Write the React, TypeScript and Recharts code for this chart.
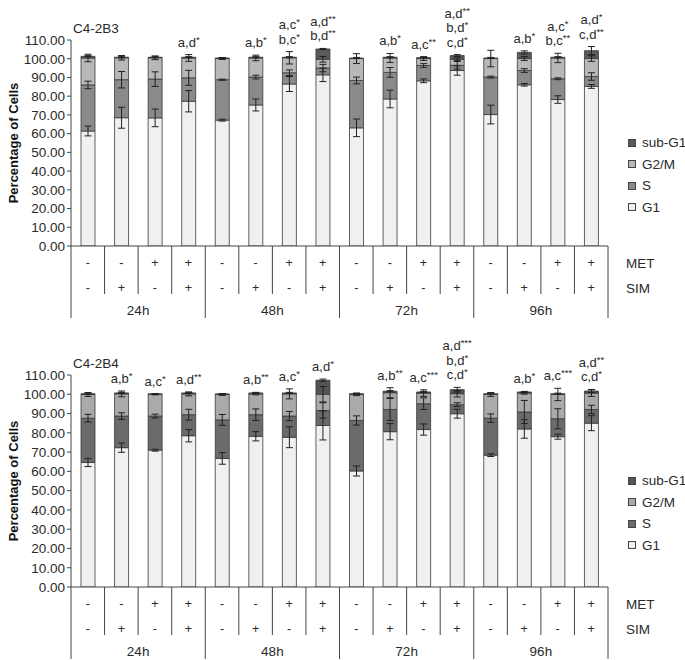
import { BarChart, Bar, XAxis, YAxis, ErrorBar, LabelList, Label } from "recharts";

const FONT = "'Liberation Sans', Arial, sans-serif";

const hours = ["24h", "48h", "72h", "96h"];
const met = ["-", "-", "+", "+", "-", "-", "+", "+", "-", "-", "+", "+", "-", "-", "+", "+"];
const sim = ["-", "+", "-", "+", "-", "+", "-", "+", "-", "+", "-", "+", "-", "+", "-", "+"];
const phases = ["sub-G1", "G2/M", "S", "G1"];
const yTicks = [0, 10, 20, 30, 40, 50, 60, 70, 80, 90, 100, 110];

// C4-2B3
const b3G1 = [61.4, 68.5, 68.4, 77.3, 67.2, 75.3, 86.5, 91.4, 63.1, 78.5, 88.2, 93.7, 70.2, 86.1, 78.2, 85.2];
const b3S = [24.6, 20.3, 20.7, 12.5, 21.6, 14.9, 6.0, 3.6, 25.3, 14.2, 8.2, 2.8, 20.0, 7.6, 11.1, 5.3];
const b3G2M = [14.4, 11.7, 11.4, 10.6, 11.3, 10.2, 8.0, 4.7, 11.7, 7.7, 3.7, 3.2, 9.9, 6.4, 11.1, 9.6];
const b3Sub = [0.9, 0.3, 0.3, 0.4, 0.3, 0.4, 0.3, 5.5, 0.3, 0.4, 0.5, 2.0, 0.3, 3.3, 0.4, 4.2];
const b3G1Err = [2.6, 5.6, 4.7, 5.7, 0.5, 3.2, 4.0, 3.6, 4.7, 4.7, 1.0, 2.5, 5.0, 0.7, 2.0, 1.0];
const b3SErr = [2.0, 4.4, 3.9, 4.0, 0.3, 1.0, 1.5, 2.0, 1.8, 2.6, 1.0, 2.0, 0.5, 1.0, 0.5, 2.0];
const b3G2MErr = [2.0, 1.2, 1.0, 1.8, 0.5, 1.5, 3.3, 1.5, 2.6, 2.4, 1.0, 0.7, 4.4, 1.0, 2.5, 1.5];
const b3SubErr = [0.3, 0.3, 0.3, 0.3, 0.2, 0.3, 0.3, 0.3, 0.3, 0.3, 0.3, 0.5, 0.3, 0.8, 0.3, 2.2];
const b3Notes = [
  [], [], [], ["a,d*"],
  [], ["a,b*"], ["a,c*", "b,c*"], ["a,d**", "b,d**"],
  [], ["a,b*"], ["a,c**"], ["a,d**", "b,d*", "c,d*"],
  [], ["a,b*"], ["a,c*", "b,c**"], ["a,d*", "c,d**"],
];

// C4-2B4
const b4G1 = [64.6, 72.3, 71.0, 78.5, 66.7, 78.2, 77.7, 83.8, 60.2, 80.6, 81.7, 89.9, 68.4, 82.0, 78.0, 85.0];
const b4S = [23.0, 16.4, 17.7, 10.9, 20.0, 11.2, 11.0, 7.8, 26.2, 11.5, 13.4, 4.7, 19.2, 8.8, 9.3, 7.1];
const b4G2M = [12.3, 11.5, 11.3, 10.8, 13.2, 10.8, 11.5, 8.4, 13.5, 8.7, 5.5, 5.7, 12.3, 9.8, 12.6, 8.5];
const b4Sub = [0.4, 0.5, 0.2, 0.5, 0.3, 0.5, 0.5, 7.3, 0.4, 0.8, 0.6, 2.1, 0.4, 0.6, 0.4, 1.1];
const b4G1Err = [2.1, 2.4, 0.5, 3.2, 3.0, 2.4, 5.4, 7.5, 2.6, 4.2, 2.9, 2.3, 0.7, 4.8, 1.3, 3.9];
const b4SErr = [2.0, 1.7, 1.0, 2.8, 2.8, 3.0, 2.4, 4.0, 2.4, 5.7, 3.0, 1.0, 2.2, 6.0, 5.2, 2.2];
const b4G2MErr = [1.0, 1.5, 0.3, 1.0, 0.5, 0.5, 2.6, 4.0, 0.6, 2.6, 1.7, 1.7, 1.0, 0.5, 3.2, 1.7];
const b4SubErr = [0.3, 0.3, 0.2, 0.3, 0.2, 0.3, 0.3, 0.6, 0.3, 0.3, 0.3, 1.2, 0.3, 0.3, 0.3, 0.8];
const b4Notes = [
  [], ["a,b*"], ["a,c*"], ["a,d**"],
  [], ["a,b**"], ["a,c*"], ["a,d*"],
  [], ["a,b**"], ["a,c***"], ["a,d***", "b,d*", "c,d*"],
  [], ["a,b*"], ["a,c***"], ["a,d**", "c,d*"],
];

const WIDTH = 685;
const MARGIN_LEFT = 7;
const Y_AXIS_W = 64;
const MARGIN_RIGHT = 77;
const BAND = (WIDTH - MARGIN_LEFT - Y_AXIS_W - MARGIN_RIGHT) / 16;
const TEXT = "#2a2a2a";

function CategoryTick({ x, y, payload }: any) {
  const i = Number(payload.value);
  const left = x - BAND / 2;
  const txt = { fontFamily: FONT, fontSize: 12.5, fill: TEXT, textAnchor: "middle" as const };
  return (
    <g>
      <line x1={left} y1={y} x2={left} y2={y + (i % 4 === 0 ? 72 : 48)} stroke="#444" strokeWidth={1} />
      {i === 15 && (
        <>
          <line x1={x + BAND / 2} y1={y} x2={x + BAND / 2} y2={y + 72} stroke="#444" strokeWidth={1} />
          <text x={x + BAND / 2 + 18} y={y + 22} {...txt} textAnchor="start" fontSize={13.5}>MET</text>
          <text x={x + BAND / 2 + 18} y={y + 47} {...txt} textAnchor="start" fontSize={13.5}>SIM</text>
        </>
      )}
      <text x={x} y={y + 21} {...txt}>{met[i]}</text>
      <text x={x} y={y + 46} {...txt}>{sim[i]}</text>
      {i % 4 === 1 && (
        <text x={x + BAND / 2} y={y + 69} {...txt} fontSize={13.5}>{hours[(i - 1) / 4]}</text>
      )}
    </g>
  );
}

function Note({ text, x, y }: { text: string; x: number; y: number }) {
  const m = text.match(/^([^*]*)(\**)$/);
  const base = m ? m[1] : text;
  const stars = m ? m[2] : "";
  return (
    <text x={x} y={y} textAnchor="middle" fontFamily={FONT} fontSize={13} fill={TEXT}>
      <tspan>{base}</tspan>
      {stars && <tspan fontSize={9.5} dy={-4}>{stars}</tspan>}
    </text>
  );
}

interface PanelProps {
  title: string;
  g1: number[];
  s: number[];
  g2m: number[];
  sub: number[];
  g1Err: number[];
  sErr: number[];
  g2mErr: number[];
  subErr: number[];
  notes: string[][];
  colors: string[];
  height: number;
  marginTop: number;
  marginBottom: number;
  axisHeight: number;
  titleY: number;
  legendTop: number;
}

function Panel(p: PanelProps) {
  const data = p.g1.map((v, i) => ({
    id: i,
    g1: v,
    s: p.s[i],
    g2m: p.g2m[i],
    sub: p.sub[i],
    g1Err: p.g1Err[i],
    sErr: p.sErr[i],
    g2mErr: p.g2mErr[i],
    subErr: p.subErr[i],
  }));
  const plotH = p.height - p.marginTop - p.axisHeight - p.marginBottom;
  const pxPerUnit = plotH / 110;
  const [cSub, cG2M, cS, cG1] = p.colors;

  const renderNotes = (lp: any) => {
    const vb = lp.viewBox ?? lp;
    const i = lp.index;
    const lines = p.notes[i] || [];
    if (!lines.length) return null;
    const total = p.g1[i] + p.s[i] + p.g2m[i] + p.sub[i];
    const g2mTop = total - p.sub[i];
    const errTop = Math.max(total + p.subErr[i], g2mTop + p.g2mErr[i]);
    const cx = vb.x + vb.width / 2;
    const baseY = vb.y - (errTop - total) * pxPerUnit - 8;
    return (
      <g>
        {lines.map((t, k) => (
          <Note key={k} text={t} x={cx} y={baseY - (lines.length - 1 - k) * 14.5} />
        ))}
      </g>
    );
  };

  const eb = { width: 3.5, stroke: "#222", strokeWidth: 1 };
  const barStroke = { stroke: "#3a3a3a", strokeWidth: 0.8 };

  return (
    <div style={{ position: "relative", width: WIDTH, height: p.height }}>
      <div
        style={{
          position: "absolute",
          left: 73,
          top: p.titleY,
          fontFamily: FONT,
          fontSize: 13.5,
          color: TEXT,
        }}
      >
        {p.title}
      </div>
      <BarChart
        width={WIDTH}
        height={p.height}
        data={data}
        margin={{ top: p.marginTop, right: MARGIN_RIGHT, left: MARGIN_LEFT, bottom: p.marginBottom }}
        barSize={14}
      >
        <XAxis
          dataKey="id"
          height={p.axisHeight}
          tickLine={false}
          tickSize={0}
          tickMargin={0}
          interval={0}
          axisLine={{ stroke: "#444" }}
          tick={<CategoryTick />}
        />
        <YAxis
          domain={[0, 110]}
          ticks={yTicks}
          interval={0}
          width={Y_AXIS_W}
          tickFormatter={(v: number) => v.toFixed(2)}
          tick={{ fontFamily: FONT, fontSize: 13.5, fill: TEXT }}
          tickSize={4}
          tickMargin={2}
          tickLine={{ stroke: "#444" }}
          axisLine={{ stroke: "#444" }}
          allowDataOverflow
        >
          <Label
            content={() => {
              const mid = p.marginTop + plotH / 2;
              return (
                <text
                  x={13}
                  y={mid}
                  transform={`rotate(-90 13 ${mid})`}
                  textAnchor="middle"
                  dominantBaseline="central"
                  fontFamily={FONT}
                  fontSize={13}
                  fontWeight="bold"
                  fill="#111"
                >
                  Percentage of Cells
                </text>
              );
            }}
          />
        </YAxis>
        <Bar dataKey="g1" stackId="a" fill={cG1} {...barStroke} isAnimationActive={false}>
          <ErrorBar dataKey="g1Err" {...eb} />
        </Bar>
        <Bar dataKey="s" stackId="a" fill={cS} {...barStroke} isAnimationActive={false}>
          <ErrorBar dataKey="sErr" {...eb} />
        </Bar>
        <Bar dataKey="g2m" stackId="a" fill={cG2M} {...barStroke} isAnimationActive={false}>
          <ErrorBar dataKey="g2mErr" {...eb} />
        </Bar>
        <Bar dataKey="sub" stackId="a" fill={cSub} {...barStroke} isAnimationActive={false}>
          <ErrorBar dataKey="subErr" {...eb} />
          <LabelList dataKey="sub" content={renderNotes} />
        </Bar>
      </BarChart>
      <div
        style={{
          position: "absolute",
          left: 628,
          top: p.legendTop,
          fontFamily: FONT,
          fontSize: 13.5,
          color: TEXT,
          whiteSpace: "nowrap",
        }}
      >
        {phases.map((name, k) => (
          <div key={name} style={{ display: "flex", alignItems: "center", height: 21.5 }}>
            <span
              style={{
                display: "inline-block",
                width: 6,
                height: 6,
                background: p.colors[k],
                border: "1px solid #444",
                marginRight: 6,
                flexShrink: 0,
              }}
            />
            {name}
          </div>
        ))}
      </div>
    </div>
  );
}

export default function App() {
  return (
    <div style={{ position: "absolute", left: 0, top: 0, width: WIDTH, height: 660, background: "#fff" }}>
      <Panel
        title="C4-2B3"
        g1={b3G1}
        s={b3S}
        g2m={b3G2M}
        sub={b3Sub}
        g1Err={b3G1Err}
        sErr={b3SErr}
        g2mErr={b3G2MErr}
        subErr={b3SubErr}
        notes={b3Notes}
        colors={["#5a5a5a", "#b8b8b8", "#8a8a8a", "#f0f0f0"]}
        height={330}
        marginTop={40}
        marginBottom={9}
        axisHeight={75}
        titleY={21}
        legendTop={132}
      />
      <Panel
        title="C4-2B4"
        g1={b4G1}
        s={b4S}
        g2m={b4G2M}
        sub={b4Sub}
        g1Err={b4G1Err}
        sErr={b4SErr}
        g2mErr={b4G2MErr}
        subErr={b4SubErr}
        notes={b4Notes}
        colors={["#555555", "#aaaaaa", "#6b6b6b", "#f0f0f0"]}
        height={330}
        marginTop={45}
        marginBottom={0}
        axisHeight={73}
        titleY={26}
        legendTop={140}
      />
    </div>
  );
}
